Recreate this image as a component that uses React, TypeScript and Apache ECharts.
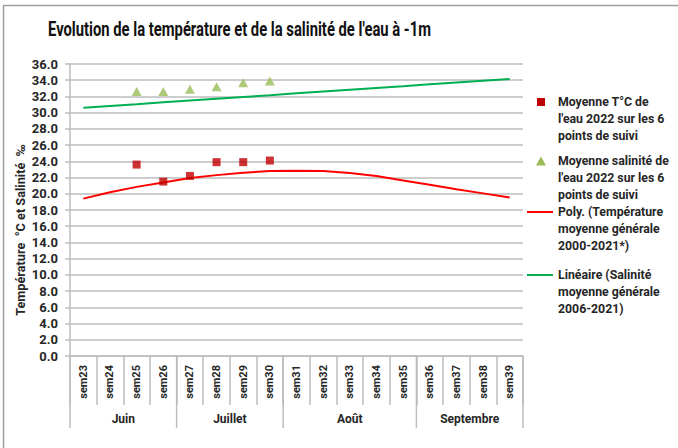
import { useEffect, useRef } from "react";
import * as echarts from "echarts";

const weeks = [
  "sem23", "sem24", "sem25", "sem26", "sem27", "sem28", "sem29", "sem30", "sem31",
  "sem32", "sem33", "sem34", "sem35", "sem36", "sem37", "sem38", "sem39",
];
const months = ["Juin", "Juillet", "Août", "Septembre"];
const monthSpans = [4, 4, 5, 4];

const tempAvg2022 = [null, null, 23.6, 21.5, 22.2, 23.9, 23.9, 24.1, null, null, null, null, null, null, null, null, null];
const salAvg2022 = [null, null, 32.6, 32.6, 32.9, 33.2, 33.7, 33.9, null, null, null, null, null, null, null, null, null];
const tempTrend = [19.4, 20.2, 20.85, 21.4, 21.95, 22.3, 22.6, 22.8, 22.85, 22.8, 22.55, 22.2, 21.65, 21.1, 20.55, 20.05, 19.55];
const salTrend = [30.6, 30.82, 31.04, 31.27, 31.49, 31.71, 31.93, 32.15, 32.38, 32.6, 32.82, 33.04, 33.26, 33.49, 33.71, 33.93, 34.15];

const yMin = 0;
const yMax = 36;
const yStep = 2;

const legendTexts = [
  "Moyenne T°C de\nl'eau 2022 sur les 6\npoints de suivi",
  "Moyenne salinité de\nl'eau 2022 sur les 6\npoints de suivi",
  "Poly. (Température\nmoyenne générale\n2000-2021*)",
  "Linéaire (Salinité\nmoyenne générale\n2006-2021)",
];

const title = "Evolution de la température et de la salinité de l'eau à -1m";
const yName = "Température  °C et Salinité  ‰";

const FONT = "Roboto, 'Liberation Sans', sans-serif";
const TXT = "#262626";
const GRID = "#bdbdbd";

export default function App() {
  const ref = useRef<HTMLDivElement>(null);

  useEffect(() => {
    if (!ref.current) return;
    const chart = echarts.init(ref.current, undefined, { renderer: "svg" });
    const option: any = {
      animation: false,
      backgroundColor: "#ffffff",
      grid: { left: 70, top: 64, width: 453, height: 292, containLabel: false },
      xAxis: {
        type: "category",
        data: weeks,
        boundaryGap: true,
        axisLine: { show: true, lineStyle: { color: GRID, width: 1.5 } },
        axisTick: { show: true, length: 49, interval: 0, lineStyle: { color: GRID, width: 1.5 } },
        axisLabel: {
          interval: 0,
          rotate: 90,
          margin: 9,
          color: TXT,
          fontFamily: FONT,
          fontWeight: "bold",
          fontSize: 11,
        },
        splitLine: { show: false },
      },
      yAxis: {
        type: "value",
        min: yMin,
        max: yMax,
        interval: yStep,
        axisLine: { show: true, lineStyle: { color: GRID, width: 1.5 } },
        axisTick: { show: true, length: 5, lineStyle: { color: GRID, width: 1.5 } },
        axisLabel: {
          margin: 12,
          color: TXT,
          fontFamily: FONT,
          fontWeight: "bold",
          fontSize: 13,
          formatter: (v: number) => v.toFixed(1),
        },
        splitLine: { show: true, lineStyle: { color: GRID, width: 1.5 } },
      },
      series: [
        {
          name: legendTexts[2],
          type: "line",
          data: tempTrend,
          showSymbol: false,
          symbol: "none",
          lineStyle: { color: "#ff0000", width: 2 },
          z: 2,
        },
        {
          name: legendTexts[3],
          type: "line",
          data: salTrend,
          showSymbol: false,
          symbol: "none",
          lineStyle: { color: "#00b050", width: 2 },
          z: 2,
        },
        {
          name: legendTexts[0],
          type: "scatter",
          data: tempAvg2022,
          symbol: "rect",
          symbolSize: 8,
          itemStyle: { color: "#c00000" },
          z: 5,
        },
        {
          name: legendTexts[1],
          type: "scatter",
          data: salAvg2022,
          symbol: "triangle",
          symbolSize: [10, 9],
          itemStyle: { color: "#9bbb59" },
          z: 5,
        },
      ],
    };
    chart.setOption(option);

    const c0 = chart.convertToPixel({ xAxisIndex: 0 }, 0) as number;
    const c1 = chart.convertToPixel({ xAxisIndex: 0 }, 1) as number;
    const band = c1 - c0;
    const yBase = chart.convertToPixel({ yAxisIndex: 0 }, yMin) as number;

    const graphics: any[] = [];
    // outer border
    graphics.push({
      type: "rect",
      shape: { x: 3.5, y: 5.5, width: 700, height: 460 },
      style: { fill: "none", stroke: "#9e9e9e", lineWidth: 1.5 },
      silent: true,
      z: 0,
    });
    // title
    graphics.push({
      type: "text",
      x: 48,
      y: 29,
      scaleX: 0.74,
      style: {
        text: title,
        font: `bold 20px ${FONT}`,
        fill: "#111111",
        verticalAlign: "middle",
        align: "left",
      },
    });
    // y axis name
    graphics.push({
      type: "text",
      x: 20,
      y: 230,
      rotation: Math.PI / 2,
      style: {
        text: yName,
        font: `bold 12.7px ${FONT}`,
        fill: TXT,
        align: "center",
        verticalAlign: "middle",
      },
    });
    // month separators and labels
    let start = 0;
    const lineBottom = yBase + 72;
    const startX = c0 - band / 2;
    graphics.push({
      type: "line",
      shape: { x1: startX, y1: yBase, x2: startX, y2: lineBottom },
      style: { stroke: GRID, lineWidth: 1.5 },
    });
    months.forEach((m, i) => {
      const end = start + monthSpans[i];
      const xs = (chart.convertToPixel({ xAxisIndex: 0 }, start) as number) - band / 2;
      const xe = (chart.convertToPixel({ xAxisIndex: 0 }, end - 1) as number) + band / 2;
      graphics.push({
        type: "line",
        shape: { x1: xe, y1: yBase, x2: xe, y2: lineBottom },
        style: { stroke: GRID, lineWidth: 1.5 },
      });
      graphics.push({
        type: "text",
        x: (xs + xe) / 2,
        y: yBase + 63,
        style: {
          text: m,
          font: `bold 12px ${FONT}`,
          fill: TXT,
          align: "center",
          verticalAlign: "middle",
        },
      });
      start = end;
    });

    // legend
    const lx = 558;
    const lh = 17;
    const legendY = [102, 161, 212, 275];
    legendTexts.forEach((t, i) => {
      graphics.push({
        type: "text",
        x: lx,
        y: legendY[i] - lh / 2,
        style: {
          text: t,
          font: `bold 12.3px ${FONT}`,
          fill: TXT,
          lineHeight: lh,
          align: "left",
          verticalAlign: "top",
        },
      });
    });
    graphics.push({
      type: "rect",
      shape: { x: 537, y: legendY[0] - 4, width: 8, height: 8 },
      style: { fill: "#c00000" },
    });
    graphics.push({
      type: "polygon",
      shape: { points: [[541, legendY[1] - 4.5], [546, legendY[1] + 4.5], [536, legendY[1] + 4.5]] },
      style: { fill: "#9bbb59" },
    });
    graphics.push({
      type: "line",
      shape: { x1: 527, y1: legendY[2], x2: 553, y2: legendY[2] },
      style: { stroke: "#ff0000", lineWidth: 2 },
    });
    graphics.push({
      type: "line",
      shape: { x1: 527, y1: legendY[3], x2: 553, y2: legendY[3] },
      style: { stroke: "#00b050", lineWidth: 2 },
    });

    chart.setOption({ graphic: graphics });

    return () => chart.dispose();
  }, []);

  return (
    <div
      ref={ref}
      style={{ position: "fixed", left: 0, top: 0, width: 678, height: 448, background: "#fff" }}
    />
  );
}
